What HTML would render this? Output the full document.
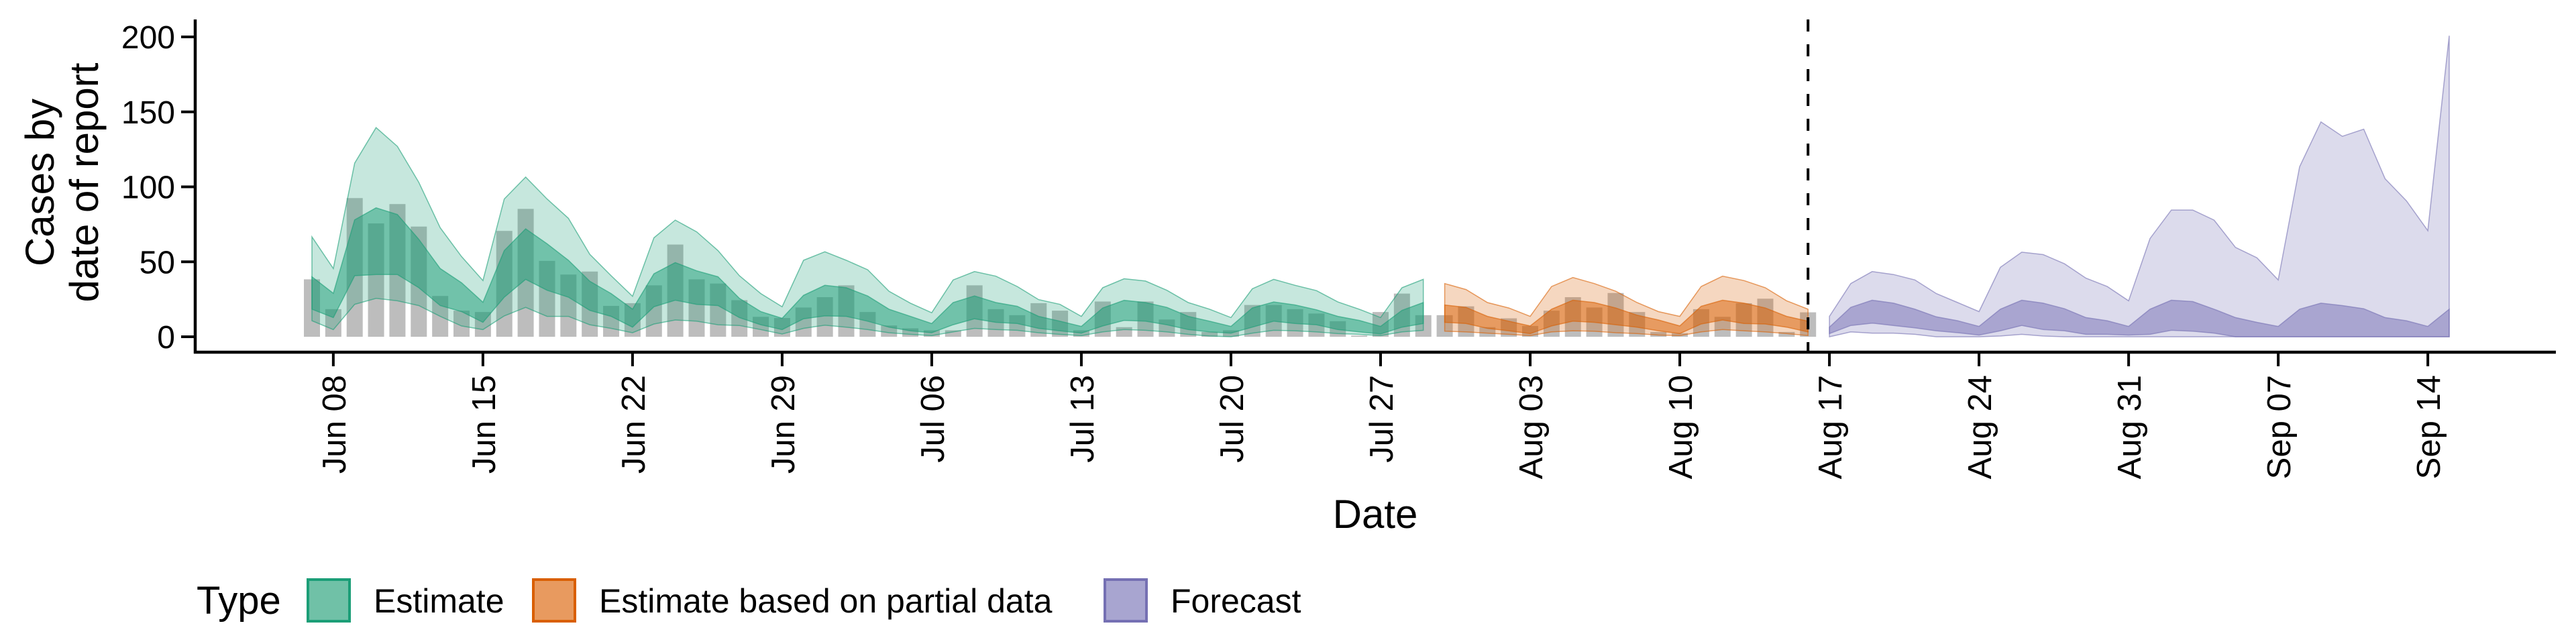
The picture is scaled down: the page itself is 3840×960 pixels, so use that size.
<!DOCTYPE html>
<html><head><meta charset="utf-8">
<style>
html,body{margin:0;padding:0;background:#fff;}
svg{display:block;font-family:"Liberation Sans",Arial,sans-serif;}
</style></head>
<body>
<svg id="chart" width="3840" height="960" viewBox="0 0 3840 960" xmlns="http://www.w3.org/2000/svg">
  <g id="bars"></g>
  <g id="ribbons"></g>
  <g id="axes"></g>
  <g id="legend"></g>
</svg>
<script>
// ---- data ----
const tickLabels = ["Jun 08","Jun 15","Jun 22","Jun 29","Jul 06","Jul 13","Jul 20","Jul 27","Aug 03","Aug 10","Aug 17","Aug 24","Aug 31","Sep 07","Sep 14"];
const tickDays = [1,8,15,22,29,36,43,50,57,64,71,78,85,92,99];
const yTicks = [0,50,100,150,200];
const cutoffDay = 70; // Aug 16
const reported = [38.3,18.4,92.5,75.6,88.5,73.5,27.2,17.4,16.5,
 70.6,85.3,50.6,41.5,43.5,20.6,22.4,
 34.3,61.5,38.3,35.5,24.4,13.3,12.5,
 19.5,26.4,34.3,16.5,7.5,5.6,4.3,
 4.3,34.3,18.4,14.4,22.4,17.4,4.3,
 23.5,6.4,23.5,11.5,16.5,3.2,4.3,
 21.2,21.2,18.4,15.5,10.4,0.8,16.5,
 28.8,14.4,14.4,20.3,6.4,12.3,7.2,
 17.4,26.4,19.5,29.2,16.5,3.2,2.4,
 18.4,13.3,22.4,25.4,3.2,16.3];
const estStart = 0;
const estHi90 = [66.6,45.5,115.8,139.5,127,103,72.7,53.5,37.5, 91.9,106.5,91.9,79,55,40.7,27, 66,77.8,70,57.5,40.7,28.8,20, 51,56.7,51,44.7,30.4,22.4,16, 37.9,43.5,40.4,33.5,24.8,21.6,13.6, 32.7,38.7,37.2,31,22.8,18.4,12.8, 32,38.3,34.3,30.8,23.2,18.4,12.8, 32.7,38.3];
const estHi50 = [40,29,78,86,81.5,65,45.5,36,23, 57.5,72,62,51,37,28.8,18.4, 42,49.5,44,40,25.6,16.8,12.3, 27.6,34.3,32.7,27.2,18.4,13.6,8.8, 22.8,27.2,22.8,20.3,13.6,10.4,6.9, 19.2,24.3,22.8,19.6,13.6,10.4,6.9, 19.2,23.2,21.2,18,13.6,10.9,6.9, 17.6,22.8];
const estLo50 = [18.4,12.8,40.7,41.5,41.5,32.7,20.8,16.8,9.6, 26.4,38.3,31,26.4,17.6,13.6,6.4, 20,24.4,21.6,20.8,12.8,8,4.8, 12,13.9,13.6,10.4,6.4,4,2.7, 8,12,9.6,8.8,5.6,4,2.4, 7.2,10.9,10.4,8,4.8,3.2,2.4, 6.4,10.4,8.8,8,4.8,3.2,1.9, 6.4,8.8];
const estLo90 = [10.7,4.8,21.6,25.6,24,20.8,13.6,7.2,4.8, 13.9,19.6,13.6,13.6,8,5.6,2.7, 8.5,11.2,10.4,8,7.5,4.8,1.9, 5.6,7.7,6.4,4.8,2.7,1.6,0.8, 3.2,5.6,4.8,4.3,2.7,1.6,0.8, 3.2,4.8,4.3,3.2,1.6,0.5,0, 2.4,4.3,4,3.2,2.1,1.6,0.8, 3.2,4.3];
const partStart = 53;
const partHi90 = [35.5,31.5,22.8,19.2,13.6,33.5,39.5,35.5,30.4,22.8,16.8,13.6,33.5,40.4,37.5,32.7,24,18.4];
const partHi50 = [21.2,19.6,13.6,10.4,7.2,18.4,24.4,22.8,19.2,14.4,11.2,7.2,20.3,24.4,22.4,19.2,13.6,10.4];
const partLo50 = [9.6,8.8,5.6,4,2.1,7.2,10.4,9.6,8,6.4,4,2.1,8.5,11.2,8.8,8.5,6.4,3.2];
const partLo90 = [3.7,3.2,2.4,1.6,0.8,3.2,4,3.7,2.7,2.1,1.1,0.8,3.2,4.8,4,3.2,2.1,0.8];
const fcStart = 71;
const fcHi90 = [13.6,35.5,43.5,41.5,37.9,28.8,22.8,16.8,46.3,56.4,54.8,48.7,39.1,33.5,24,65.5,84.5,84.5,77.8,59.6,52.7,37.9,113.4,143.3,133.7,138.5,105.4,90.6,70.8,200.8];
const fcHi50 = [6.4,19.6,24.4,22.4,18.4,13.3,10.7,6.9,18.4,24.4,22.4,18.7,12.8,10.7,6.9,18.4,24.4,23.5,18.4,12.8,9.6,6.9,18.4,22.4,20.8,18.7,12.8,10.7,6.9,18.4];
const fcLo50 = [2.1,7.5,9.1,7.5,5.9,4,2.7,1.1,4,7.5,4.8,4,1.6,1.6,1.1,1.6,4.3,3.7,2.4,0,0,0,0,0,0,0,0,0,0,0];
const fcLo90 = [0,3.2,2.4,2.4,1.6,0,0,0,0.5,1.6,0.5,0,0,0,0,0,0,0,0,0,0,0,0,0,0,0,0,0,0,0];

// ---- scales ----
const NS = "http://www.w3.org/2000/svg";
const X0 = 465, DAY = 31.86;
const Y0 = 502, YPER = 2.235;
function xs(d){ return X0 + DAY*d; }
function ys(v){ return Y0 - YPER*v; }
function mk(tag, attrs, parent){
  const e = document.createElementNS(NS, tag);
  for (const k in attrs) e.setAttribute(k, attrs[k]);
  parent.appendChild(e);
  return e;
}

// bars
const gb = document.getElementById('bars');
reported.forEach((v,i)=>{
  const r = mk('rect',{x:xs(i)-12,y:ys(v),width:24,height:Y0-ys(v),fill:'#bdbdbd'},gb);
  
  
});

// ribbons
const gr = document.getElementById('ribbons');
function ribbon(start, lo, hi, color, op, name){
  let pts = [];
  hi.forEach((v,i)=>pts.push(xs(start+i).toFixed(1)+','+ys(v).toFixed(1)));
  for (let i=lo.length-1;i>=0;i--) pts.push(xs(start+i).toFixed(1)+','+ys(lo[i]).toFixed(1));
  const p = mk('polygon',{points:pts.join(' '),fill:color,'fill-opacity':op,stroke:color,'stroke-opacity':0.6,'stroke-width':1.5},gr);
  
  
}
ribbon(estStart, estLo90, estHi90, '#1b9e77', 0.25, 'estimate-90-ribbon');
ribbon(estStart, estLo50, estHi50, '#1b9e77', 0.5, 'estimate-50-ribbon');
ribbon(partStart, partLo90, partHi90, '#d95f02', 0.25, 'partial-90-ribbon');
ribbon(partStart, partLo50, partHi50, '#d95f02', 0.5, 'partial-50-ribbon');
ribbon(fcStart, fcLo90, fcHi90, '#7570b3', 0.25, 'forecast-90-ribbon');
ribbon(fcStart, fcLo50, fcHi50, '#7570b3', 0.5, 'forecast-50-ribbon');

// axes
const ga = document.getElementById('axes');
const cut = mk('line',{x1:xs(cutoffDay),x2:xs(cutoffDay),y1:29,y2:525,stroke:'#000','stroke-width':4,'stroke-dasharray':'18 19'},ga);


const ya = mk('line',{x1:291,x2:291,y1:29,y2:527,stroke:'#000','stroke-width':4.5},ga);


const xa = mk('line',{x1:289,x2:3810,y1:525,y2:525,stroke:'#000','stroke-width':4.5},ga);


yTicks.forEach(v=>{
  const t = mk('line',{x1:270,x2:291,y1:ys(v),y2:ys(v),stroke:'#000','stroke-width':4},ga);
  
  
  const l = mk('text',{x:261,y:ys(v)+17,'text-anchor':'end','font-size':48,fill:'#000'},ga);
  l.textContent = v;
  
  
});
tickDays.forEach((d,i)=>{
  const x = xs(d);
  const t = mk('line',{x1:x,x2:x,y1:525,y2:546,stroke:'#000','stroke-width':4},ga);
  
  
  const l = mk('text',{x:0,y:0,'text-anchor':'end','font-size':49,fill:'#000',transform:`translate(${x+18},559) rotate(-90)`},ga);
  l.textContent = tickLabels[i];
  
  
});
const xt = mk('text',{x:2050,y:787,'text-anchor':'middle','font-size':60,fill:'#000'},ga);
xt.textContent = 'Date';


const yt = mk('text',{'text-anchor':'middle','font-size':60,fill:'#000',transform:'translate(80,272) rotate(-90)'},ga);


const s1 = mk('tspan',{x:0,y:0},yt); s1.textContent='Cases by';
const s2 = mk('tspan',{x:0,y:66},yt); s2.textContent='date of report';

// legend
const gl = document.getElementById('legend');
const lt = mk('text',{x:293,y:915,'font-size':58,fill:'#000'},gl);
lt.textContent='Type';


const legendNames = ['Estimate','Estimate based on partial data','Forecast'];
const legendColors = ['#1b9e77','#d95f02','#7570b3'];
const legendFills = ['#70c1a7','#e89a5f','#a8a5d0'];
const legendBoxX = [459,795,1647];
legendNames.forEach((n,i)=>{
  const r = mk('rect',{x:legendBoxX[i],y:864,width:62,height:62,fill:legendFills[i],stroke:legendColors[i],'stroke-width':4},gl);
  
  
  const t = mk('text',{x:legendBoxX[i]+98,y:913,'font-size':50,fill:'#000'},gl);
  t.textContent = n;
  
  
});
</script>
</body></html>
